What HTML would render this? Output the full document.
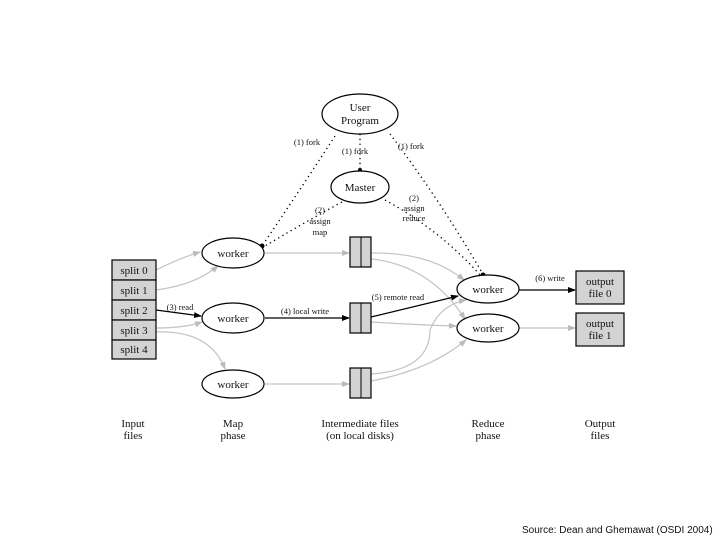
<!DOCTYPE html>
<html><head><style>
html,body{margin:0;padding:0;background:#fff;}
svg{display:block;}
text{font-family:"Liberation Serif",serif;fill:#111;}
</style></head><body>
<svg width="720" height="540" viewBox="0 0 720 540" xmlns="http://www.w3.org/2000/svg">
<defs>
<marker id="ab" markerWidth="8" markerHeight="6" refX="7" refY="3" orient="auto" markerUnits="userSpaceOnUse"><path d="M0,0 L8,3 L0,6 z" fill="#000"/></marker>
<marker id="ag" markerWidth="8" markerHeight="6" refX="7" refY="3" orient="auto" markerUnits="userSpaceOnUse"><path d="M0,0 L8,3 L0,6 z" fill="#bbb"/></marker>
</defs>
<!-- gray edges -->
<g fill="none" stroke="#c4c4c4" stroke-width="1.2" marker-end="url(#ag)">
<path d="M156,270 Q180,258 200,252"/>
<path d="M156,290 Q195,285 218,266"/>
<path d="M156,328 Q185,328 202,322"/>
<path d="M156,332 Q210,330 225,369"/>
<path d="M265,253 L349,253"/>
<path d="M265,384 L349,384"/>
<path d="M371,253 Q430,252 464,280"/>
<path d="M371,259 Q430,265 465,319"/>
<path d="M371,322 Q420,325 456,326"/>
<path d="M371,374 Q430,370 430,330 Q440,305 466,300"/>
<path d="M371,381 Q430,370 466,340"/>
<path d="M519,328 L575,328"/>
</g>
<!-- black edges -->
<g fill="none" stroke="#000" stroke-width="1.2" marker-end="url(#ab)">
<path d="M156,310 L201,316"/>
<path d="M265,318 L349,318"/>
<path d="M371,317 L458,296"/>
<path d="M519,290 L575,290"/>
</g>
<!-- dotted -->
<g fill="none" stroke="#000" stroke-width="1.3" stroke-dasharray="1.3,3.5">
<path d="M335,136 Q300,190 262,246"/>
<path d="M360,134 L360,170"/>
<path d="M390,134 Q440,200 484,276"/>
<path d="M342,202 Q300,225 265,246"/>
<path d="M385,200 Q440,230 481,276"/>
</g>
<circle cx="262" cy="246" r="2.5" fill="#000"/>
<circle cx="360" cy="170" r="2" fill="#000"/>
<circle cx="483" cy="275" r="2.5" fill="#000"/>
<!-- nodes -->
<g fill="#fff" stroke="#000" stroke-width="1.2">
<ellipse cx="360" cy="114" rx="38" ry="20"/>
<ellipse cx="360" cy="187" rx="29" ry="16"/>
<ellipse cx="233" cy="253" rx="31" ry="15"/>
<ellipse cx="233" cy="318" rx="31" ry="15"/>
<ellipse cx="233" cy="384" rx="31" ry="14"/>
<ellipse cx="488" cy="289" rx="31" ry="14"/>
<ellipse cx="488" cy="328" rx="31" ry="14"/>
</g>
<g fill="#d3d3d3" stroke="#000" stroke-width="1.2">
<rect x="112" y="260" width="44" height="20"/>
<rect x="112" y="280" width="44" height="20"/>
<rect x="112" y="300" width="44" height="20"/>
<rect x="112" y="320" width="44" height="20"/>
<rect x="112" y="340" width="44" height="19"/>
<rect x="350" y="237" width="21" height="30"/>
<rect x="350" y="303" width="21" height="30"/>
<rect x="350" y="368" width="21" height="30"/>
<rect x="576" y="271" width="48" height="33"/>
<rect x="576" y="313" width="48" height="33"/>
</g>
<g stroke="#000"><line x1="361" y1="237" x2="361" y2="267"/><line x1="361" y1="303" x2="361" y2="333"/><line x1="361" y1="368" x2="361" y2="398"/></g>
<g font-size="11" text-anchor="middle">
<text x="360" y="111">User</text><text x="360" y="124">Program</text>
<text x="360" y="191">Master</text>
<text x="233" y="257">worker</text><text x="233" y="322">worker</text><text x="233" y="388">worker</text>
<text x="488" y="293">worker</text><text x="488" y="332">worker</text>
<text x="134" y="274">split 0</text><text x="134" y="294">split 1</text><text x="134" y="314">split 2</text><text x="134" y="334">split 3</text><text x="134" y="353">split 4</text>
<text x="600" y="285">output</text><text x="600" y="297">file 0</text>
<text x="600" y="327">output</text><text x="600" y="339">file 1</text>
<text x="133" y="427">Input</text><text x="133" y="439">files</text>
<text x="233" y="427">Map</text><text x="233" y="439">phase</text>
<text x="360" y="427">Intermediate files</text><text x="360" y="439">(on local disks)</text>
<text x="488" y="427">Reduce</text><text x="488" y="439">phase</text>
<text x="600" y="427">Output</text><text x="600" y="439">files</text>
</g>
<g font-size="8.5" text-anchor="middle">
<text x="307" y="145">(1) fork</text>
<text x="355" y="154">(1) fork</text>
<text x="411" y="149">(1) fork</text>
<text x="320" y="213">(2)</text><text x="320" y="224">assign</text><text x="320" y="235">map</text>
<text x="414" y="201">(2)</text><text x="414" y="211">assign</text><text x="414" y="221">reduce</text>
<text x="180" y="310">(3) read</text>
<text x="305" y="314">(4) local write</text>
<text x="398" y="300">(5) remote read</text>
<text x="550" y="281">(6) write</text>
</g>
<text x="522" y="533" font-size="10" style="font-family:'Liberation Sans',sans-serif">Source: Dean and Ghemawat (OSDI 2004)</text>
</svg>
</body></html>
